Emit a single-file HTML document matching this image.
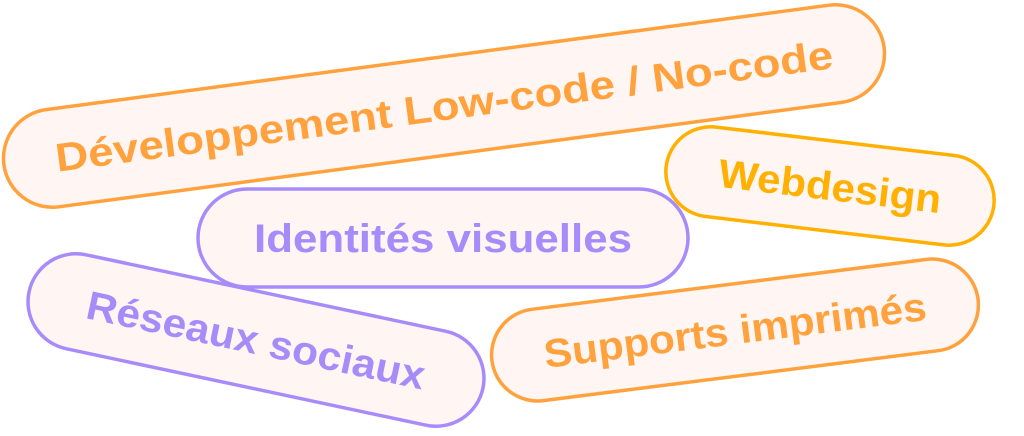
<!DOCTYPE html>
<html><head><meta charset="utf-8"><style>
html,body{margin:0;padding:0;background:#fff;width:1024px;height:436px;overflow:hidden}
svg text{font-family:"Liberation Sans",sans-serif;font-weight:bold;font-size:40px}
</style></head><body>
<svg width="1024" height="436" viewBox="0 0 1024 436" xmlns="http://www.w3.org/2000/svg">
<g transform="translate(444,106) rotate(-7.6)">
<rect x="-444" y="-49" width="888" height="98" rx="49" fill="#fff5f3" stroke="#ffa23d" stroke-width="3.5"/>
<text x="0" y="14" text-anchor="middle" fill="#ffa23d" textLength="784" lengthAdjust="spacingAndGlyphs">Développement Low-code / No-code</text>
</g>
<g transform="translate(830,186) rotate(6.8)">
<rect x="-165" y="-45" width="330" height="90" rx="45" fill="#fff5f3" stroke="#ffb000" stroke-width="3.5"/>
<text x="0" y="14" text-anchor="middle" fill="#ffb000" textLength="224" lengthAdjust="spacingAndGlyphs">Webdesign</text>
</g>
<g transform="translate(443,238)">
<rect x="-245" y="-49" width="490" height="98" rx="49" fill="#fff5f3" stroke="#a78bfa" stroke-width="3.5"/>
<text x="0" y="14" text-anchor="middle" fill="#a78bfa" textLength="378" lengthAdjust="spacingAndGlyphs">Identités visuelles</text>
</g>
<g transform="translate(256,340) rotate(12)">
<rect x="-232" y="-48" width="464" height="96" rx="48" fill="#fff5f3" stroke="#a78bfa" stroke-width="3.5"/>
<text x="0" y="14" text-anchor="middle" fill="#a78bfa" textLength="345" lengthAdjust="spacingAndGlyphs">Réseaux sociaux</text>
</g>
<g transform="translate(735,330) rotate(-7.2)">
<rect x="-245" y="-46" width="490" height="92" rx="46" fill="#fff5f3" stroke="#ffa23d" stroke-width="3.5"/>
<text x="0" y="14" text-anchor="middle" fill="#ffa23d" textLength="385" lengthAdjust="spacingAndGlyphs">Supports imprimés</text>
</g>
</svg>
</body></html>
